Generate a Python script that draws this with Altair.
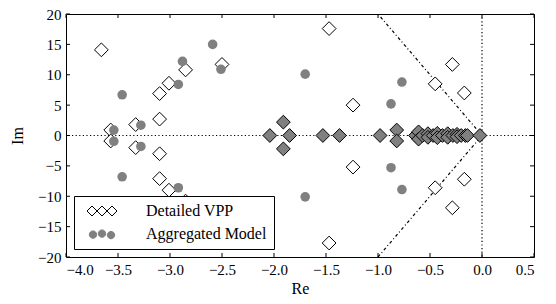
import altair as alt
import pandas as pd

# ---- data ----
series = ["Detailed VPP", "Aggregated Model"]

# Detailed VPP, complex poles (open diamonds)
vpp_re = [-3.66, -3.66, -3.57, -3.57, -3.33, -3.33, -3.10, -3.10, -3.10, -3.10,
          -3.01, -3.01, -2.85, -2.85, -2.50, -2.50, -1.47, -1.47, -1.24, -1.24,
          -0.45, -0.45, -0.285, -0.285, -0.17, -0.17]
vpp_im = [14.1, -14.1, 0.9, -0.9, 1.8, -2.0, 2.7, -3.0, 6.9, -7.1,
          8.6, -9.0, 10.8, -10.8, 11.7, -11.7, 17.6, -17.7, 5.0, -5.2,
          8.5, -8.6, 11.7, -11.9, 7.0, -7.2]

# Detailed VPP, poles on / near the real axis (grey diamonds)
real_re = [-2.04, -1.91, -1.91, -1.85, -1.53, -1.37, -0.98, -0.82, -0.82,
           -0.64, -0.61, -0.61, -0.57, -0.52, -0.52, -0.47, -0.43, -0.43,
           -0.38, -0.33, -0.33, -0.28, -0.24, -0.24, -0.20, -0.16, -0.14, -0.02]
real_im = [0.0, 2.2, -2.2, 0.0, 0.0, 0.0, 0.0, 0.9, -0.9,
           0.0, 0.6, -0.6, 0.0, 0.3, -0.3, 0.0, 0.35, -0.35,
           0.0, 0.3, -0.3, 0.0, 0.2, -0.2, 0.0, 0.0, 0.0, 0.0]

# Aggregated model (grey circles)
agg_re = [-3.46, -3.46, -3.54, -3.54, -3.28, -3.28, -2.92, -2.92, -2.88, -2.88,
          -2.59, -2.59, -2.51, -2.51, -1.70, -1.70, -0.875, -0.875, -0.77, -0.77]
agg_im = [6.7, -6.8, 0.9, -0.95, 1.7, -1.8, 8.4, -8.6, 12.2, -12.2,
          15.0, -15.0, 10.9, -10.9, 10.1, -10.1, 5.2, -5.3, 8.8, -8.9]

# damping lines through the origin
damp_id = ["upper", "upper", "lower", "lower"]
damp_re = [-1.0, 0.0, 0.0, -1.0]
damp_im = [20.0, 0.0, 0.0, -20.0]

x_ticks = [-4.0, -3.5, -3.0, -2.5, -2.0, -1.5, -1.0, -0.5, 0.0, 0.5]
y_ticks = [-20, -15, -10, -5, 0, 5, 10, 15, 20]

# ---- styling ----
W, H = 468, 243
FONT = "Liberation Serif, Times New Roman, serif"
GREY = "#808080"
DIAMOND_SIZE = 190
CIRCLE_SIZE = 92

vpp_df = pd.DataFrame({"re": vpp_re, "im": vpp_im})
real_df = pd.DataFrame({"re": real_re, "im": real_im})
agg_df = pd.DataFrame({"re": agg_re, "im": agg_im})
damp_df = pd.DataFrame({"id": damp_id, "re": damp_re, "im": damp_im})
xt_df = pd.DataFrame({"re": x_ticks})
yt_df = pd.DataFrame({"im": y_ticks})
zero_df = pd.DataFrame({"re": [0.0], "im": [0.0]})
leg_df = pd.DataFrame({"re": [0.0, 0.0], "im": [0.0, 0.0], "series": series})

X = alt.X("re:Q", scale=alt.Scale(domain=[-4.0, 0.5], nice=False, zero=False),
          axis=alt.Axis(values=x_ticks, format=".1f", title="Re", labelPadding=5,
                        titlePadding=3))
Y = alt.Y("im:Q", scale=alt.Scale(domain=[-20, 20], nice=False, zero=False),
          axis=alt.Axis(values=y_ticks, format="d", title="Im", labelPadding=5,
                        titlePadding=12))

dotted = [1.2, 2.4]

hline = alt.Chart(zero_df).mark_rule(color="black", strokeWidth=1.2, strokeDash=dotted).encode(y=Y)
vline = alt.Chart(zero_df).mark_rule(color="black", strokeWidth=1.2, strokeDash=dotted).encode(x=X)

damp = alt.Chart(damp_df).mark_line(color="black", strokeWidth=1.2,
                                    strokeDash=[3, 2.5, 1, 2.5]).encode(
    x=X, y=Y, detail="id:N", order=alt.Order("im:Q"))

tick_style = dict(color="black", strokeWidth=1)
xt_bot = alt.Chart(xt_df).mark_rule(**tick_style).encode(x=X, y=alt.value(H), y2=alt.value(H - 4))
xt_top = alt.Chart(xt_df).mark_rule(**tick_style).encode(x=X, y=alt.value(0), y2=alt.value(4))
yt_left = alt.Chart(yt_df).mark_rule(**tick_style).encode(y=Y, x=alt.value(0), x2=alt.value(4))
yt_right = alt.Chart(yt_df).mark_rule(**tick_style).encode(y=Y, x=alt.value(W), x2=alt.value(W - 4))

vpp = alt.Chart(vpp_df).mark_point(shape="diamond", filled=True, fill="white",
                                   stroke="black", strokeWidth=1,
                                   size=DIAMOND_SIZE, opacity=1).encode(x=X, y=Y)
real = alt.Chart(real_df).mark_point(shape="diamond", filled=True, fill=GREY,
                                     stroke="black", strokeWidth=1,
                                     size=DIAMOND_SIZE, opacity=1).encode(x=X, y=Y)
agg = alt.Chart(agg_df).mark_point(shape="circle", filled=True, fill=GREY,
                                   size=CIRCLE_SIZE, opacity=1).encode(x=X, y=Y)

# legend symbols (three markers per entry, like matplotlib's scatterpoints=3)
tri_diamond = ("M-3,0L-2,-1L-1,0L-2,1Z M-1,0L0,-1L1,0L0,1Z M1,0L2,-1L3,0L2,1Z")
r = 0.74
def circ(cx, cy):
    return (f"M{cx - r:.3f},{cy:.3f}a{r},{r} 0 1,0 {2 * r:.3f},0"
            f"a{r},{r} 0 1,0 {-2 * r:.3f},0Z")
tri_circle = " ".join([circ(-1.8, 0.12), circ(0.0, -0.08), circ(1.8, 0.22)])

legend = alt.Legend(title=None, orient="none", legendX=8, legendY=182,
                    padding=7, strokeColor="black", fillColor="white",
                    cornerRadius=0, labelFont=FONT, labelFontSize=16,
                    labelColor="black", labelOffset=36, symbolOffset=13,
                    rowPadding=7, labelLimit=300, symbolStrokeWidth=1)

leg = alt.Chart(leg_df).mark_point(size=169, filled=True, opacity=1).encode(
    x=X, y=Y,
    shape=alt.Shape("series:N", scale=alt.Scale(domain=series, range=[tri_diamond, tri_circle]),
                    legend=legend),
    fill=alt.Fill("series:N", scale=alt.Scale(domain=series, range=["white", GREY]),
                  legend=legend),
    stroke=alt.Stroke("series:N", scale=alt.Scale(domain=series, range=["black", GREY]),
                      legend=legend),
).transform_filter("datum.re > 100")

chart = alt.layer(hline, vline, damp, vpp, real, agg, xt_bot, xt_top, yt_left, yt_right, leg).properties(
    width=W, height=H,
    autosize=alt.AutoSizeParams(type="none"),
    padding={"left": 58, "top": 6, "right": 14, "bottom": 40},
).configure_view(stroke="black", strokeWidth=1).configure_axis(
    grid=False, domain=False, ticks=False,
    labelFont=FONT, labelFontSize=15, labelColor="black",
    titleFont=FONT, titleFontSize=16, titleFontWeight="normal", titleColor="black",
).configure_legend(labelFont=FONT)

chart.save("out.html", embed_options={"renderer": "svg", "actions": False})
